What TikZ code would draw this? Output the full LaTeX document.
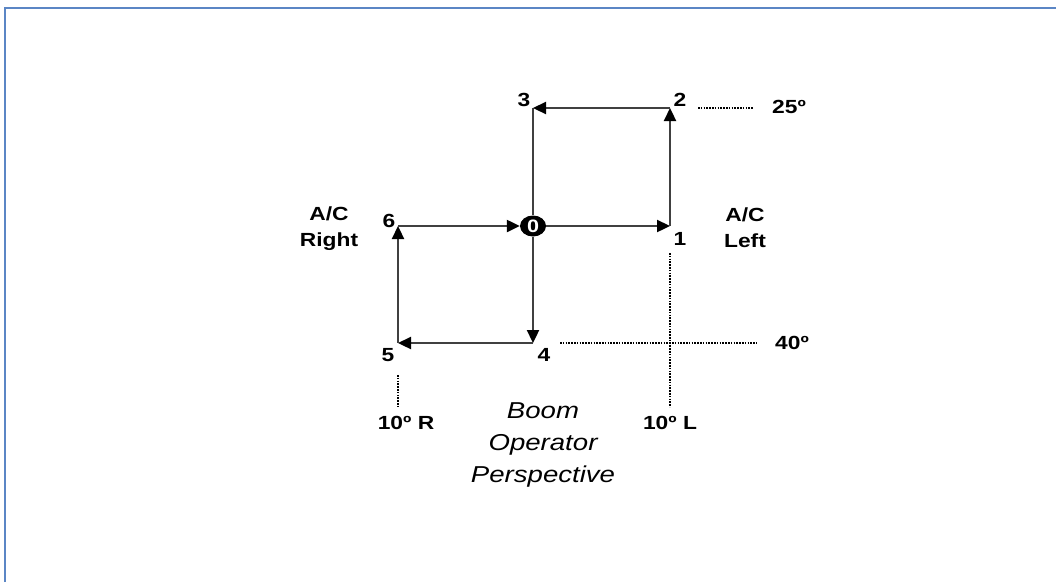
\documentclass[tikz,border=0pt]{standalone}
\usepackage{fontspec}
\setmainfont{Liberation Sans}[FakeStretch=1.2]
\usetikzlibrary{arrows.meta,shapes.geometric}
\definecolor{frameblue}{HTML}{5B86C5}
\definecolor{pathgray}{HTML}{404040}
\tikzset{
  lbl/.style={font=\fontsize{19}{26}\selectfont\bfseries, inner sep=0pt, align=center},
  flow/.style={draw=pathgray, line width=2.3pt, -{Triangle[length=13pt,width=12pt,color=black]}},
  plain/.style={draw=pathgray, line width=2.3pt},
  guide/.style={draw=black, line width=1.5pt, dash pattern=on 1.5pt off 1.3pt},
}
\begin{document}
\begin{tikzpicture}[x=1pt,y=-1pt]
\useasboundingbox (0,0) rectangle (1056,582);
% frame
\draw[frameblue, line width=2pt] (5,582) -- (5,8) -- (1056,8);
% corners
\coordinate (c1) at (670,226);
\coordinate (c2) at (670,108);
\coordinate (c3) at (533,108);
\coordinate (c4) at (533,343);
\coordinate (c5) at (398,343);
\coordinate (c6) at (398,226);
% centre node
\node[ellipse, fill=black, minimum width=26pt, minimum height=21pt, inner sep=0pt,
      text=white, font=\fontsize{18}{18}\selectfont\bfseries] (n0) at (533,226) {0};
% path
\draw[plain] (c3) -- (n0);
\draw[flow] (n0) -- (c1);
\draw[flow] (c1) -- (c2);
\draw[flow] (c2) -- (c3);
\draw[flow] (n0) -- (c4);
\draw[flow] (c4) -- (c5);
\draw[flow] (c5) -- (c6);
\draw[flow] (c6) -- (n0);
% point labels
\node[lbl] (l1) at (680,239) {1};
\node[lbl] (l2) at (680,100) {2};
\node[lbl] (l3) at (524,100) {3};
\node[lbl] (l4) at (544,355) {4};
\node[lbl] (l5) at (388,355) {5};
\node[lbl] (l6) at (389,221) {6};
% side labels
\node[lbl] (acl) at (745,228) {A/C\\Left};
\node[lbl] (acr) at (329,229) {A/C\\Right};
% angle labels
\node[lbl] (a25) at (789,107) {25º};
\node[lbl] (a40) at (792,343) {40º};
\node[lbl] (a10r) at (406,423) {10º R};
\node[lbl] (a10l) at (670,423) {10º L};
% guide lines
\coordinate (g25a) at (698,108);
\coordinate (g25b) at (753,108);
\draw[guide] (g25a) -- (g25b);
\coordinate (g40a) at (560,343);
\coordinate (g40b) at (757,343);
\draw[guide] (g40a) -- (g40b);
\coordinate (glt) at (670,253);
\coordinate (glb) at (670,407);
\draw[guide] (glt) -- (glb);
\coordinate (grt) at (398,375);
\coordinate (grb) at (398,407);
\draw[guide] (grt) -- (grb);
% caption
\node[font=\fontsize{23}{32}\selectfont\itshape, align=center, inner sep=0pt] (cap) at (543,445)
  {Boom\\Operator\\Perspective};
\end{tikzpicture}
\end{document}
